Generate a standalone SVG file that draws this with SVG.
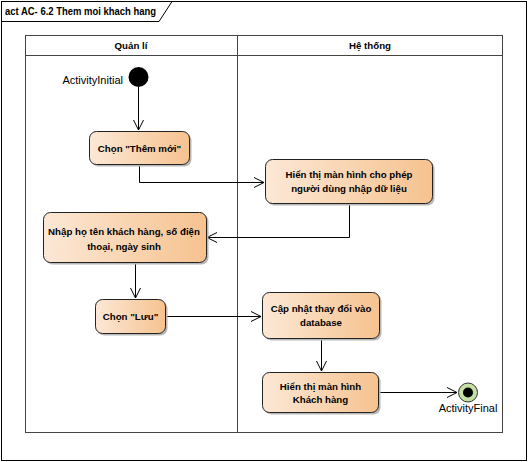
<svg xmlns="http://www.w3.org/2000/svg" width="528" height="462" viewBox="0 0 528 462">
<style>
text{font-family:"Liberation Sans",Arial,sans-serif;fill:#000}
.t{font-size:9.7px;font-weight:bold;text-anchor:middle}
.lbl{font-size:11px}
.box{fill:url(#g);stroke:#222;stroke-width:1}
.sh{fill:#b8b8b8}
.ln{fill:none;stroke:#000;stroke-width:1}
.lane{fill:none;stroke:#444;stroke-width:1}
</style>
<defs>
<linearGradient id="g" x1="0" y1="0" x2="1" y2="0">
<stop offset="0" stop-color="#fce8d6"/>
<stop offset="1" stop-color="#f6c28f"/>
</linearGradient>
<marker id="a" markerWidth="12" markerHeight="12" refX="10" refY="6" orient="auto" markerUnits="userSpaceOnUse">
<path d="M0,1 L10,6 L0,11" fill="none" stroke="#000" stroke-width="1"/>
</marker>
</defs>
<rect width="528" height="462" fill="#fff"/>
<g id="frame">
<rect x="1.5" y="1.5" width="525" height="459" fill="none" stroke="#000"/>
<path d="M1.5,21.5 H159 L172,1.5" fill="none" stroke="#000"/>
<text x="5" y="15" style="font-size:10.5px;font-weight:bold" textLength="151" lengthAdjust="spacingAndGlyphs">act AC- 6.2 Them moi khach hang</text>
</g>
<g id="lanes">
<rect x="25.5" y="35.5" width="477" height="397" class="lane"/>
<line x1="25.5" y1="55.5" x2="502.5" y2="55.5" class="lane"/>
<line x1="237.5" y1="35.5" x2="237.5" y2="432.5" class="lane"/>
<text x="131" y="49" class="t">Quản lí</text>
<text x="370" y="49" class="t">Hệ thống</text>
</g>
<g id="connectors">
<path d="M138.5,87 V130" class="ln" marker-end="url(#a)"/>
<path d="M139.5,164 V182.5 H264" class="ln" marker-end="url(#a)"/>
<path d="M349.5,203 V237.5 H207" class="ln" marker-end="url(#a)"/>
<path d="M135.5,262 V298" class="ln" marker-end="url(#a)"/>
<path d="M165,316.5 H261" class="ln" marker-end="url(#a)"/>
<path d="M321.5,338 V371" class="ln" marker-end="url(#a)"/>
<path d="M378,392.5 H457" class="ln" marker-end="url(#a)"/>
</g>
<g id="initial">
<circle cx="138.5" cy="77" r="10" fill="#000"/>
<text x="123" y="84" class="lbl" text-anchor="end">ActivityInitial</text>
</g>
<g id="n1">
<rect x="91.5" y="133.5" width="100" height="33" rx="7" class="sh"/>
<rect x="89.5" y="131.5" width="100" height="33" rx="7" class="box"/>
<text x="139.5" y="152" class="t">Chọn "Thêm mới"</text>
</g>
<g id="n2">
<rect x="267.5" y="161.5" width="167" height="44" rx="7" class="sh"/>
<rect x="265.5" y="159.5" width="167" height="44" rx="7" class="box"/>
<text x="349" y="178" class="t">Hiển thị màn hình cho phép</text>
<text x="349" y="192" class="t">người dùng nhập dữ liệu</text>
</g>
<g id="n3">
<rect x="45.5" y="214.5" width="163" height="50" rx="7" class="sh"/>
<rect x="43.5" y="212.5" width="163" height="50" rx="7" class="box"/>
<text x="124" y="235" class="t">Nhập họ tên khách hàng, số điện</text>
<text x="124" y="250" class="t">thoại, ngày sinh</text>
</g>
<g id="n4">
<rect x="97.5" y="301.5" width="70" height="34" rx="7" class="sh"/>
<rect x="95.5" y="299.5" width="70" height="34" rx="7" class="box"/>
<text x="130.5" y="320" class="t">Chọn "Lưu"</text>
</g>
<g id="n5">
<rect x="264.5" y="294.5" width="117" height="46" rx="7" class="sh"/>
<rect x="262.5" y="292.5" width="117" height="46" rx="7" class="box"/>
<text x="321" y="312" class="t">Cập nhật thay đổi vào</text>
<text x="321" y="326" class="t">database</text>
</g>
<g id="n6">
<rect x="264.5" y="374.5" width="116" height="40" rx="7" class="sh"/>
<rect x="262.5" y="372.5" width="116" height="40" rx="7" class="box"/>
<text x="320.5" y="390" class="t">Hiển thị màn hình</text>
<text x="320.5" y="403" class="t">Khách hàng</text>
</g>
<g id="final">
<circle cx="468" cy="392.5" r="9.5" fill="#c6e0a4" stroke="#333" stroke-width="1"/>
<circle cx="468" cy="392.5" r="5" fill="#000"/>
<text x="468" y="412" class="lbl" text-anchor="middle">ActivityFinal</text>
</g>
</svg>
